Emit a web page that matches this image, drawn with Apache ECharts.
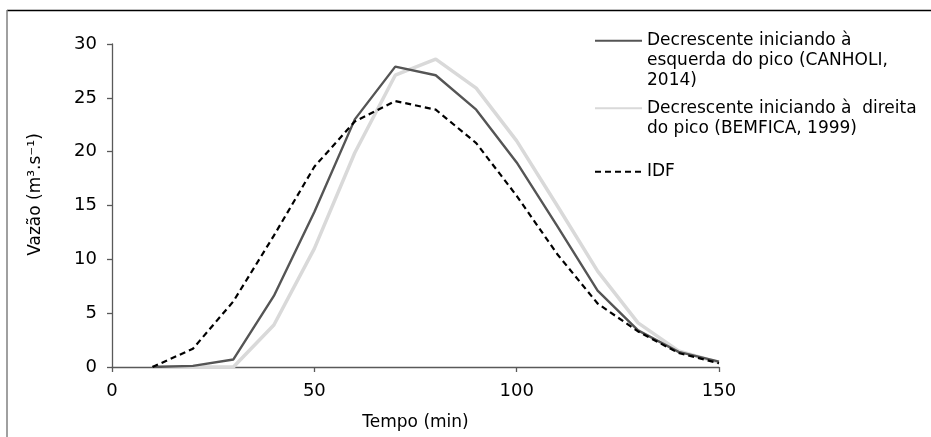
<!DOCTYPE html>
<html>
<head>
<meta charset="utf-8">
<script src="https://cdn.jsdelivr.net/npm/echarts@6/dist/echarts.min.js"></script>
<style>
html,body{margin:0;padding:0;background:#fff;}
#chart{width:931px;height:437px;}
</style>
</head>
<body>
<div id="chart"></div>
<script>
// Data
var tempo = [10, 20, 30, 40, 50, 60, 70, 80, 90, 100, 110, 120, 130, 140, 150];
var canholi = [0, 0.1, 0.7, 6.6, 14.4, 23.0, 27.9, 27.1, 23.9, 19.0, 13.1, 7.1, 3.4, 1.4, 0.5];
var bemfica = [0, 0, 0, 3.9, 11.0, 19.9, 27.1, 28.6, 25.9, 21.0, 15.0, 8.9, 4.1, 1.5, 0.4];
var idf = [0, 1.7, 6.1, 12.2, 18.6, 22.8, 24.7, 23.9, 20.8, 15.9, 10.5, 5.9, 3.3, 1.3, 0.35];
var xTicks = [0, 50, 100, 150];
var yTicks = [0, 5, 10, 15, 20, 25, 30];

var nameCanholi = 'Decrescente iniciando à\nesquerda do pico (CANHOLI,\n2014)';
var nameBemfica = 'Decrescente iniciando à  direita\ndo pico (BEMFICA, 1999)';
var nameIdf = 'IDF';

function pairs(xs, ys) {
  return xs.map(function (x, i) { return [x, ys[i]]; });
}

var FONT = 'DejaVu Sans';
var axisColor = '#595959';

// put the legend line level with the first line of a multi-line label
function legendOf(name, top) {
  var extra = name.split('\n').length - 1;
  var prefix = '';
  for (var i = 0; i < extra; i++) prefix += '\n';
  return {
    data: [name],
    left: 594,
    top: top,
    padding: 0,
    itemWidth: 47,
    itemHeight: 14,
    itemGap: 0,
    selectedMode: false,
    itemStyle: {opacity: 0},
    formatter: function (n) { return prefix + n; },
    textStyle: {
      fontFamily: FONT,
      fontSize: 17,
      color: '#000',
      lineHeight: 20
    }
  };
}

var chart = echarts.init(document.getElementById('chart'), null, {renderer: 'canvas'});
chart.setOption({
  animation: false,
  backgroundColor: '#fff',
  graphic: [
    {type: 'line', shape: {x1: 7, y1: 10.5, x2: 931, y2: 10.5}, style: {stroke: '#000', lineWidth: 1.5}, silent: true},
    {type: 'line', shape: {x1: 7, y1: 10, x2: 7, y2: 437}, style: {stroke: '#808080', lineWidth: 1.5}, silent: true}
  ],
  grid: {left: 112, right: 212, top: 44, bottom: 70},
  legend: [
    legendOf(nameCanholi, 40.7 - 50),
    legendOf(nameBemfica, 108.3 - 30),
    legendOf(nameIdf, 171.7 - 10)
  ],
  xAxis: {
    type: 'value',
    min: xTicks[0],
    max: xTicks[xTicks.length - 1],
    interval: xTicks[1] - xTicks[0],
    name: 'Tempo (min)',
    nameLocation: 'middle',
    nameGap: 47,
    nameTextStyle: {fontFamily: FONT, fontSize: 17, color: '#000'},
    axisLine: {show: true, lineStyle: {color: axisColor, width: 1.3}},
    axisTick: {show: true, length: 5, lineStyle: {color: axisColor, width: 1.3}},
    axisLabel: {fontFamily: FONT, fontSize: 18, color: '#000', margin: 15},
    splitLine: {show: false}
  },
  yAxis: {
    type: 'value',
    min: yTicks[0],
    max: yTicks[yTicks.length - 1],
    interval: yTicks[1] - yTicks[0],
    name: 'Vazão (m³.s⁻¹)',
    nameLocation: 'middle',
    nameGap: 68,
    nameTextStyle: {fontFamily: FONT, fontSize: 17, color: '#000', padding: [0, 0, 0, 22]},
    axisLine: {show: true, lineStyle: {color: axisColor, width: 1.3}},
    axisTick: {show: true, length: 5, lineStyle: {color: axisColor, width: 1.3}},
    axisLabel: {fontFamily: FONT, fontSize: 18, color: '#000', margin: 15},
    splitLine: {show: false}
  },
  series: [
    {
      name: nameCanholi,
      type: 'line',
      data: pairs(tempo, canholi),
      symbol: 'none',
      z: 3,
      lineStyle: {color: '#555555', width: 2.4},
      itemStyle: {color: '#555555', opacity: 0}
    },
    {
      name: nameBemfica,
      type: 'line',
      data: pairs(tempo, bemfica),
      symbol: 'none',
      z: 2,
      lineStyle: {color: '#d9d9d9', width: 3.5},
      itemStyle: {color: '#d9d9d9', opacity: 0}
    },
    {
      name: nameIdf,
      type: 'line',
      data: pairs(tempo, idf),
      symbol: 'none',
      z: 4,
      lineStyle: {color: '#000000', width: 2.2, type: [6, 4]},
      itemStyle: {color: '#000000', opacity: 0}
    }
  ]
});
</script>
</body>
</html>
